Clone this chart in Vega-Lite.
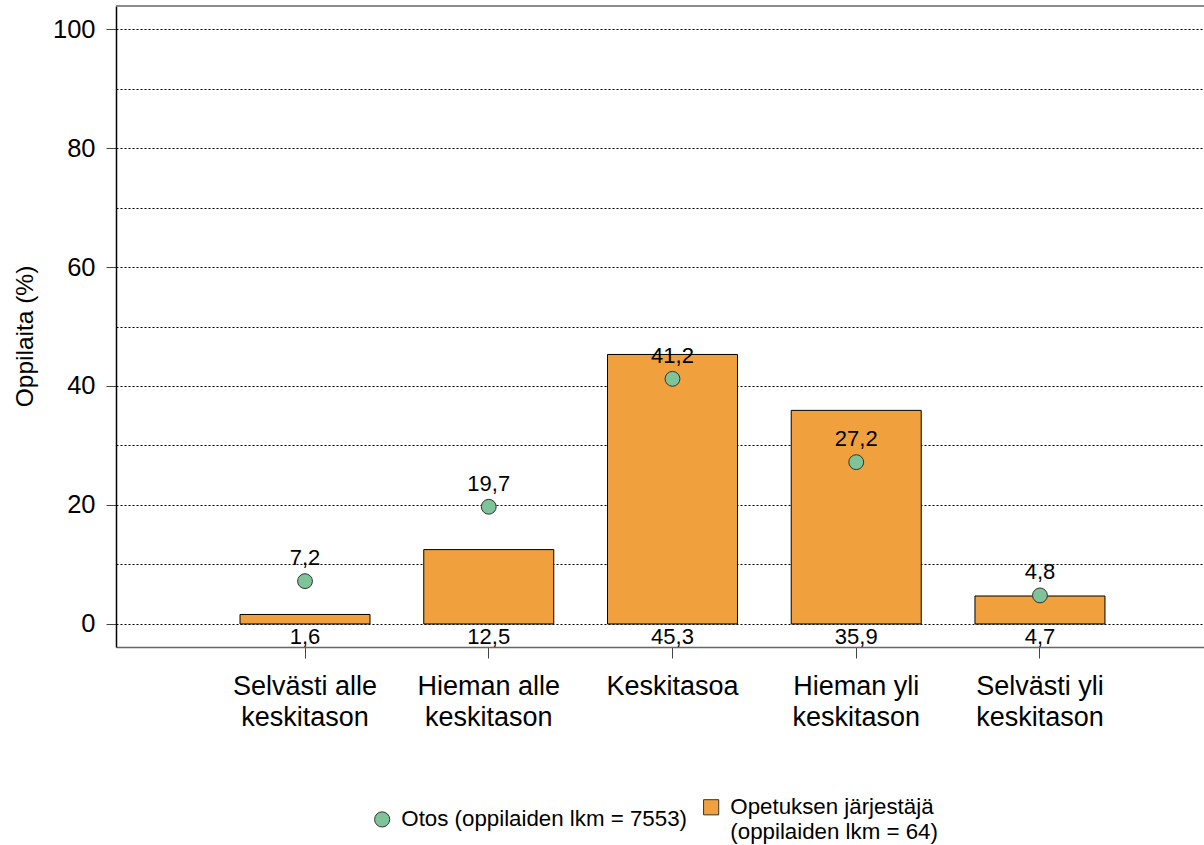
{
  "$schema": "https://vega.github.io/schema/vega-lite/v6.json",
  "autosize": "none",
  "width": 1088,
  "height": 641,
  "padding": {"left": 116, "top": 6, "right": 0, "bottom": 198},
  "background": "white",
  "config": {
    "font": "Liberation Sans",
    "locale": {"number": {"decimal": ",", "thousands": " ", "grouping": [3], "currency": ["", " €"]}},
    "view": {"stroke": null}
  },
  "data": {
    "values": [
      {"category": "Selvästi alle|keskitason", "series": "Otos (oppilaiden lkm = 7553)", "value": 7.2},
      {"category": "Hieman alle|keskitason", "series": "Otos (oppilaiden lkm = 7553)", "value": 19.7},
      {"category": "Keskitasoa", "series": "Otos (oppilaiden lkm = 7553)", "value": 41.2},
      {"category": "Hieman yli|keskitason", "series": "Otos (oppilaiden lkm = 7553)", "value": 27.2},
      {"category": "Selvästi yli|keskitason", "series": "Otos (oppilaiden lkm = 7553)", "value": 4.8},
      {"category": "Selvästi alle|keskitason", "series": "Opetuksen järjestäjä|(oppilaiden lkm = 64)", "value": 1.6},
      {"category": "Hieman alle|keskitason", "series": "Opetuksen järjestäjä|(oppilaiden lkm = 64)", "value": 12.5},
      {"category": "Keskitasoa", "series": "Opetuksen järjestäjä|(oppilaiden lkm = 64)", "value": 45.3},
      {"category": "Hieman yli|keskitason", "series": "Opetuksen järjestäjä|(oppilaiden lkm = 64)", "value": 35.9},
      {"category": "Selvästi yli|keskitason", "series": "Opetuksen järjestäjä|(oppilaiden lkm = 64)", "value": 4.7}
    ]
  },
  "layer": [
    {
      "transform": [{"filter": "indexof(datum.series, 'Opetuksen') == 0"}],
      "mark": {"type": "bar", "stroke": "black", "strokeWidth": 1, "opacity": 1},
      "encoding": {
        "x": {
          "field": "category", "type": "nominal", "sort": null,
          "scale": {"paddingInner": 0.2925, "paddingOuter": 0.607, "align": 0.556},
          "axis": {
            "title": null, "labelAngle": 0, "labelExpr": "split(datum.label, '|')",
            "labelFontSize": 27, "labelLineHeight": 31.5, "labelColor": "black",
            "labelPadding": 15, "tickSize": 11, "tickColor": "#444444",
            "domain": true, "domainColor": "#666666", "domainWidth": 1.5, "grid": false
          }
        },
        "y": {
          "field": "value", "type": "quantitative",
          "scale": {"domain": [-3.87, 103.87], "nice": false, "zero": false},
          "axis": {
            "title": "Oppilaita (%)", "titleFontSize": 24.5, "titleFontWeight": "normal", "titleColor": "black", "titlePadding": 15, "titleY": 330,
            "values": [0, 10, 20, 30, 40, 50, 60, 70, 80, 90, 100],
            "labelExpr": "datum.value % 20 == 0 ? datum.label : ''",
            "labelFontSize": 25.5, "labelColor": "black", "labelPadding": 11,
            "tickSize": 10, "tickColor": "#444444",
            "tickOpacity": {"condition": {"test": "datum.value % 20 != 0", "value": 0}, "value": 1},
            "grid": true, "gridColor": "black", "gridDash": [2, 2], "gridOpacity": 1, "gridWidth": 1,
            "domain": true, "domainColor": "black", "domainWidth": 1.5
          }
        },
        "y2": {"datum": 0},
        "color": {
          "field": "series", "type": "nominal",
          "scale": {"domain": ["Otos (oppilaiden lkm = 7553)", "Opetuksen järjestäjä|(oppilaiden lkm = 64)"], "range": ["#7FC398", "#F0A03C"]},
          "legend": {
            "title": null, "orient": "none", "direction": "horizontal", "legendX": 255, "legendY": 790,
            "labelExpr": "split(datum.label, '|')", "labelFontSize": 22.3, "labelLineHeight": 25, "labelColor": "black",
            "labelLimit": 500, "symbolSize": 230, "symbolStrokeColor": "#333333", "symbolStrokeWidth": 1,
            "labelOffset": 8, "columnPadding": 13, "symbolOpacity": 1
          }
        }
      }
    },
    {
      "data": {"values": [{}]},
      "mark": {"type": "rule", "stroke": "#666666", "strokeWidth": 1.5},
      "encoding": {"y": {"datum": 103.87}}
    },
    {
      "transform": [{"filter": "indexof(datum.series, 'Otos') == 0"}],
      "mark": {"type": "point", "filled": true, "size": 220, "stroke": "#333333", "strokeWidth": 1, "opacity": 1},
      "encoding": {
        "x": {"field": "category", "type": "nominal", "sort": null},
        "y": {"field": "value", "type": "quantitative"},
        "color": {"field": "series", "type": "nominal"},
        "shape": {
          "field": "series", "type": "nominal",
          "scale": {"domain": ["Otos (oppilaiden lkm = 7553)", "Opetuksen järjestäjä|(oppilaiden lkm = 64)"], "range": ["circle", "square"]},
          "legend": {"title": null}
        }
      }
    },
    {
      "transform": [{"filter": "indexof(datum.series, 'Otos') == 0"}],
      "mark": {"type": "text", "fontSize": 22, "color": "black", "baseline": "alphabetic", "dy": -16},
      "encoding": {
        "x": {"field": "category", "type": "nominal", "sort": null},
        "y": {"field": "value", "type": "quantitative"},
        "text": {"field": "value", "type": "quantitative", "format": ".1f"}
      }
    },
    {
      "transform": [{"filter": "indexof(datum.series, 'Opetuksen') == 0"}],
      "mark": {"type": "text", "fontSize": 22, "color": "black", "baseline": "alphabetic", "dy": 20},
      "encoding": {
        "x": {"field": "category", "type": "nominal", "sort": null},
        "y": {"datum": 0},
        "text": {"field": "value", "type": "quantitative", "format": ".1f"}
      }
    }
  ]
}
